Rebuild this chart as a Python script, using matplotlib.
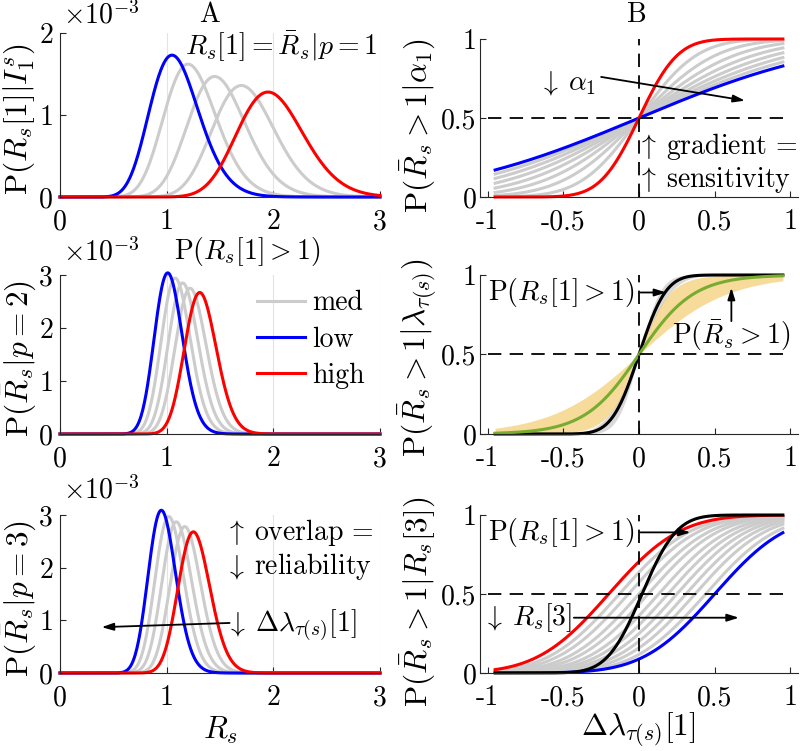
import math
import numpy as np
import matplotlib
matplotlib.use("Agg")
import matplotlib.pyplot as plt

plt.rcParams["font.family"] = "cmr10"
plt.rcParams["mathtext.fontset"] = "cm"
plt.rcParams["axes.unicode_minus"] = False

FS = 20
FS_LAB = 22.5
BLUE, RED, GRAY = "#0000ff", "#ff0000", "#cccccc"
GREEN, ORANGE = "#77ac30", "#edb120"
LW = 2.2

# ---- column A: densities (x1e-3), read as mode / peak height / spread
# order: low (blue), med (grey) ..., high (red)
a1_modes = [1.05, 1.20, 1.45, 1.70, 1.95]
a1_peaks = [1.73, 1.62, 1.47, 1.36, 1.28]
a1_width = [0.23, 0.245, 0.27, 0.29, 0.31]

a2_modes = [1.01, 1.08, 1.15, 1.22, 1.31]
a2_peaks = [3.04, 2.94, 2.85, 2.75, 2.67]
a2_width = [0.131, 0.136, 0.140, 0.145, 0.149]

a3_modes = [0.95, 1.02, 1.09, 1.17, 1.25]
a3_peaks = [3.09, 2.97, 2.87, 2.78, 2.68]
a3_width = [0.129, 0.134, 0.139, 0.143, 0.149]

# ---- column B: sigmoid curves, read as centre / spread
b1_scales = [1.0, 0.9, 0.8, 0.7, 0.6, 0.5, 0.4, 0.3, 0.2]   # blue, greys, red
b2_black = 0.14
b2_grey_band = [0.11, 0.17]
b2_green = 0.18
b2_orange_band = [0.10, 0.29]
b3_centres = [0.50, 0.44, 0.37, 0.31, 0.25, 0.19, 0.13, 0.06, 0.0,
              -0.07, -0.13, -0.20]   # blue, greys, red
b3_scale = 0.37
b3_black = [0.02, 0.18]

xa = np.linspace(0, 3, 601)
xb = np.linspace(-0.95, 0.95, 300)
_erf = np.vectorize(math.erf)


def density(x, mode, peak, width):
    u = np.clip(x / mode, 1e-9, None)
    k = (mode / width) ** 2
    return peak * np.exp(-k * (u - 1 - np.log(u)))


def ncdf(x, c, s):
    return 0.5 * (1 + _erf((x - c) / (s * np.sqrt(2))))


def logistic(x, s):
    return 1 / (1 + np.exp(-x / s))


def px_axes(fig, x0, y0, x1, y1):
    W, H = 800, 751
    return fig.add_axes([x0 / W, 1 - y1 / H, (x1 - x0) / W, (y1 - y0) / H])


def style(ax, left_col):
    for s in ["top", "right"]:
        ax.spines[s].set_visible(False)
    for s in ["left", "bottom"]:
        ax.spines[s].set_color("#262626")
        ax.spines[s].set_linewidth(0.8)
    ax.tick_params(direction="in", length=4, width=0.8, color="#262626",
                   labelsize=FS)
    ax.tick_params(axis="x", pad=8.5)
    ax.tick_params(axis="y", pad=5 if left_col else 2.5)
    if left_col:
        ax.set_xlim(0, 3)
        ax.set_xticks([0, 1, 2, 3])
        ax.set_xticklabels(["0", "1", "2", "3"])
        ax.grid(axis="x", color="#e3e3e3", lw=0.8)
    else:
        ax.set_xlim(-1.05, 1.05)
        ax.set_ylim(0, 1)
        ax.set_xticks([-1, -0.5, 0, 0.5, 1])
        ax.set_xticklabels(["-1", "-0.5", "0", "0.5", "1"])
        ax.set_yticks([0, 0.5, 1])
        ax.set_yticklabels(["0", "0.5", "1"])


def draw_densities(ax, modes, peaks, widths, labels=False):
    for m, p, w in zip(modes[1:-1], peaks[1:-1], widths[1:-1]):
        ax.plot(xa, density(xa, m, p, w), color=GRAY, lw=LW, clip_on=False,
                label="med" if labels and m == modes[1] else None)
    ax.plot(xa, density(xa, modes[0], peaks[0], widths[0]), color=BLUE, lw=LW,
            clip_on=False, label="low" if labels else None)
    ax.plot(xa, density(xa, modes[-1], peaks[-1], widths[-1]), color=RED, lw=LW,
            clip_on=False, label="high" if labels else None)


def guides(ax):
    ax.plot([-1, 0.95], [0.5, 0.5], color="k", lw=1.3, dashes=(7.4, 4.6))
    ax.plot([0, 0], [0, 1], color="k", lw=1.3, dashes=(7.4, 4.6), clip_on=False)


def arrow(ax, start, end):
    ax.annotate("", xy=end, xytext=start,
                arrowprops=dict(arrowstyle="-|>,head_length=0.7,head_width=0.22",
                                color="k", lw=1.3, shrinkA=0, shrinkB=0))


fig = plt.figure(figsize=(8, 7.51), dpi=100)

# ---------------- column A ----------------
axA1 = px_axes(fig, 60, 33, 380, 197)
axA2 = px_axes(fig, 60, 275, 380, 434)
axA3 = px_axes(fig, 60, 515, 380, 673)
for ax, ymax in [(axA1, 2), (axA2, 3), (axA3, 3)]:
    style(ax, True)
    ax.set_ylim(0, ymax)
    ax.set_yticks(range(ymax + 1))
    ax.set_yticklabels([str(i) for i in range(ymax + 1)])

draw_densities(axA1, a1_modes, a1_peaks, a1_width)
draw_densities(axA2, a2_modes, a2_peaks, a2_width, labels=True)
draw_densities(axA3, a3_modes, a3_peaks, a3_width)

axA1.text(2.98, 1.83, r"$R_s[1]=\bar{R}_s|p=1$", fontsize=FS, ha="right", va="center")

h, l = axA2.get_legend_handles_labels()
order = [l.index("med"), l.index("low"), l.index("high")]
axA2.legend([h[i] for i in order], [l[i] for i in order], loc="upper left",
            bbox_to_anchor=(0.615, 0.905), frameon=False, fontsize=FS,
            handlelength=1.75, handletextpad=0.25, labelspacing=0.36,
            borderpad=0, borderaxespad=0)

axA3.text(1.55, 2.66, r"$\uparrow\:$overlap$\,=$", fontsize=FS, va="center")
axA3.text(1.55, 2.02, r"$\downarrow\:$reliability", fontsize=FS, va="center")
axA3.text(1.56, 0.91, r"$\downarrow\:\Delta\lambda_{\tau(s)}[1]$", fontsize=FS,
          va="center")
arrow(axA3, (1.59, 0.95), (0.39, 0.87))

# ---------------- column B ----------------
axB1 = px_axes(fig, 480, 39, 798, 197)
axB2 = px_axes(fig, 480, 275, 798, 434)
axB3 = px_axes(fig, 480, 515, 798, 673)
for ax in (axB1, axB2, axB3):
    style(ax, False)

# B1
for s in b1_scales[1:-1]:
    axB1.plot(xb, ncdf(xb, 0, s), color=GRAY, lw=LW)
axB1.plot(xb, ncdf(xb, 0, b1_scales[0]), color=BLUE, lw=LW)
axB1.plot(xb, ncdf(xb, 0, b1_scales[-1]), color=RED, lw=LW, clip_on=False)
guides(axB1)
axB1.text(-0.66, 0.72, r"$\downarrow\:\alpha_1$", fontsize=FS, va="center")
arrow(axB1, (-0.25, 0.76), (0.70, 0.61))
axB1.text(-0.01, 0.32, r"$\uparrow\:$gradient$\,=$", fontsize=FS, va="center")
axB1.text(-0.01, 0.11, r"$\uparrow\:$sensitivity", fontsize=FS, va="center")

# B2
axB2.fill_between(xb, ncdf(xb, 0, b2_grey_band[0]), ncdf(xb, 0, b2_grey_band[1]),
                  color="#d9d9d9", lw=0)
axB2.fill_between(xb, logistic(xb, b2_orange_band[0]), logistic(xb, b2_orange_band[1]),
                  color=ORANGE, alpha=0.45, lw=0)
axB2.plot(xb, ncdf(xb, 0, b2_black), color="k", lw=LW, clip_on=False)
axB2.plot(xb, logistic(xb, b2_green), color=GREEN, lw=LW, clip_on=False)
guides(axB2)
axB2.text(-1.0, 0.89, r"$\mathrm{P}(R_s[1]>1)$", fontsize=FS, va="center")
arrow(axB2, (0.01, 0.89), (0.18, 0.89))
axB2.text(0.22, 0.615, r"$\mathrm{P}(\bar{R}_s>1)$", fontsize=FS, va="center")
arrow(axB2, (0.61, 0.71), (0.61, 0.92))

# B3
for c in b3_centres[1:-1]:
    axB3.plot(xb, ncdf(xb, c, b3_scale), color=GRAY, lw=LW)
axB3.plot(xb, ncdf(xb, b3_centres[0], b3_scale), color=BLUE, lw=LW)
axB3.plot(xb, ncdf(xb, b3_centres[-1], b3_scale), color=RED, lw=LW)
axB3.plot(xb, ncdf(xb, b3_black[0], b3_black[1]), color="k", lw=LW, clip_on=False)
guides(axB3)
axB3.text(-1.0, 0.89, r"$\mathrm{P}(R_s[1]>1)$", fontsize=FS, va="center")
arrow(axB3, (0.01, 0.89), (0.34, 0.89))
axB3.text(-1.03, 0.35, r"$\downarrow\:R_s[3]$", fontsize=FS, va="center")
arrow(axB3, (-0.43, 0.35), (0.66, 0.35))

# ---------------- labels ----------------
W, H = 800, 751
ylabels = [
    (19, 119, r"$\mathrm{P}(R_s[1]|I_1^s)$"),
    (19, 358, r"$\mathrm{P}(\bar{R}_s|p=2)$"),
    (19, 598, r"$\mathrm{P}(\bar{R}_s|p=3)$"),
    (418, 126, r"$\mathrm{P}(\bar{R}_s>1|\alpha_1)$"),
    (418, 358, r"$\mathrm{P}(\bar{R}_s>1|\lambda_{\tau(s)})$"),
    (418, 602, r"$\mathrm{P}(\bar{R}_s>1|R_s[3])$"),
]
for x, y, s in ylabels:
    fig.text(x / W, 1 - y / H, s, rotation=90, ha="center", va="center",
             fontsize=FS_LAB)

fig.text(220 / W, 1 - 730 / H, r"$R_s$", ha="center", va="center", fontsize=FS_LAB)
fig.text(638 / W, 1 - 730 / H, r"$\Delta\lambda_{\tau(s)}[1]$", ha="center",
         va="center", fontsize=FS_LAB)

fig.text(210 / W, 1 - 15 / H, "A", ha="center", va="center", fontsize=FS)
fig.text(637 / W, 1 - 15 / H, "B", ha="center", va="center", fontsize=FS)
fig.text(247 / W, 1 - 251 / H, r"$\mathrm{P}(R_s[1]>1)$", ha="center", va="center",
         fontsize=FS)
for y in (15, 252, 490):
    fig.text(63 / W, 1 - y / H, r"$\times10^{-3}$", ha="left", va="center", fontsize=FS)

fig.savefig("out.png", dpi=100)
